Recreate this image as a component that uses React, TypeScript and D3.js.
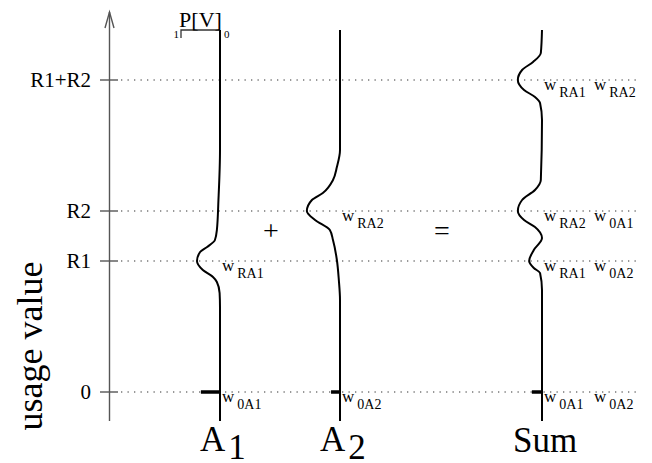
import React from 'react'
import * as d3 from 'd3'

// usage levels (arbitrary units, R1+R2 at the top tick)
const R1 = 131
const R2 = 181
const tickValues = [0, R1, R2, R1 + R2]
const tickLabels = ['0', 'R1', 'R2', 'R1+R2']

// P[V] profiles, [usage value, probability]
const a1Profile: [number, number][] = [
  [362, 0], [242, 0], [192, 0.04], [162, 0.08], [152, 0.13], [145, 0.33], [140, 0.51],
  [131, 0.59], [122, 0.44], [115, 0.18], [110, 0.08], [99, 0.01], [85, 0], [-29, 0],
]
const a2Profile: [number, number][] = [
  [362, 0], [242, 0], [225, 0.08], [212, 0.18], [199, 0.44], [192, 0.72], [181, 0.85],
  [172, 0.64], [162, 0.26], [152, 0.18], [132, 0.08], [112, 0.03], [92, 0], [-29, 0],
]
const sumProfile: [number, number][] = [
  [362, 0], [339, 0.03], [330, 0.23], [322, 0.51], [312, 0.62], [302, 0.46], [295, 0.18],
  [289, 0.05], [272, 0], [212, 0.03], [202, 0.18], [192, 0.51], [181, 0.62], [172, 0.46],
  [165, 0.18], [154, 0], [142, 0.21], [131, 0.33], [124, 0.21], [119, 0.05], [102, 0], [-29, 0],
]
// point mass at usage 0
const zeroMass = [0.49, 0.23, 0.26]

const columnNames = ['A1', 'A2', 'Sum']
const weightLabels: [number, string[]][][] = [
  [[R1, ['RA1']], [0, ['0A1']]],
  [[R2, ['RA2']], [0, ['0A2']]],
  [[R1 + R2, ['RA1', 'RA2']], [R2, ['RA2', '0A1']], [R1, ['RA1', '0A2']], [0, ['0A1', '0A2']]],
]

// body margin is left alone, so every page position is taken 8px back
const M = 8
const W = 652 - M
const H = 463 - M
const axisX = 109.5 - M
const colX = [220 - M, 340 - M, 542 - M]
const FONT = "'Liberation Serif', 'Times New Roman', Times, 'DejaVu Serif', serif"
const tf = { fontFamily: FONT }

export default function App() {
  const y = d3.scaleLinear().domain([0, R1 + R2]).range([392 - M, 80 - M])
  const p = d3.scaleLinear().domain([0, 1]).range([0, 39])
  const profiles = [a1Profile, a2Profile, sumProfile]

  const makeLine = (cx: number) =>
    d3.line<[number, number]>()
      .x(d => cx - p(d[1]))
      .y(d => y(d[0]))
      .curve(d3.curveMonotoneY)

  const yTop = y(380)
  const yBottom = y(-29)

  return (
    <svg width={W} height={H} fontFamily={FONT}>
      <style>{`text, tspan { font-family: ${FONT} !important; }`}</style>

      {/* dotted guide lines */}
      {tickValues.map((v, i) => (
        <line key={'g' + i} x1={121 - M} x2={640 - M} y1={y(v)} y2={y(v)}
          stroke="#333" strokeWidth={1.2} strokeDasharray="1.3 5.2" />
      ))}

      {/* usage axis */}
      <g stroke="#555" strokeWidth={1.4} fill="none">
        <line x1={axisX} x2={axisX} y1={yBottom} y2={yTop} />
        <path d={`M${axisX - 4.5},${yTop + 16}L${axisX},${yTop}L${axisX + 4.5},${yTop + 16}`} />
        {tickValues.map((v, i) => (
          <line key={'t' + i} x1={axisX - 9.5} x2={axisX + 8.5} y1={y(v)} y2={y(v)} />
        ))}
      </g>

      {/* P[V] scale box on top of A1 */}
      <path d={`M${colX[0] - p(1)},${38 - M}V${30 - M}H${colX[0]}`} fill="none" stroke="#333" strokeWidth={1.3} />

      {/* profiles */}
      {profiles.map((prof, i) => (
        <g key={'c' + i}>
          <path d={makeLine(colX[i])(prof) || ''} fill="none" stroke="#000" strokeWidth={2} />
          <line x1={colX[i] - p(zeroMass[i])} x2={colX[i]} y1={y(0)} y2={y(0)} stroke="#000" strokeWidth={3.5} />
        </g>
      ))}

      <g fontFamily={FONT} style={tf}>
        {tickValues.map((v, i) => (
          <text key={'l' + i} x={axisX - 18.5} y={y(v) + 7} textAnchor="end" fontSize={21} style={tf}>{tickLabels[i]}</text>
        ))}
        <text transform={`translate(${42 - M},${346 - M}) rotate(-90)`} textAnchor="middle" fontSize={36} style={tf}>usage value</text>

        <text x={colX[0] - p(1) - 2} y={38 - M} textAnchor="end" fontSize={11} style={tf}>1</text>
        <text x={colX[0] + 4} y={38 - M} fontSize={11} style={tf}>0</text>
        <text x={(colX[0] * 2 - p(1)) / 2} y={27 - M} textAnchor="middle" fontSize={22} style={tf}>P[V]</text>

        {/* weight labels */}
        {weightLabels.map((rows, i) =>
          rows.map(([v, subs], j) =>
            subs.map((s, k) => (
              <text key={`w${i}-${j}-${k}`} x={colX[i] + 2 + k * 50} y={y(v) + 10} fontSize={17} style={tf}>
                w<tspan dx={3} dy={7} fontSize={14}>{s}</tspan>
              </text>
            ))
          )
        )}

        {/* operators */}
        <text x={271 - M} y={240 - M} textAnchor="middle" fontSize={28} style={tf}>+</text>
        <text x={442 - M} y={240 - M} textAnchor="middle" fontSize={28} style={tf}>=</text>

        {/* column names */}
        {columnNames.map((c, i) => (
          c === 'Sum'
            ? <text key={'n' + i} x={colX[i] - 29} y={452 - M} fontSize={35} style={tf}>Sum</text>
            : <text key={'n' + i} x={colX[i] - 20} y={451 - M} fontSize={35} style={tf}>
                {c[0]}<tspan dx={3} dy={8}>{c.slice(1)}</tspan>
              </text>
        ))}
      </g>
    </svg>
  )
}
